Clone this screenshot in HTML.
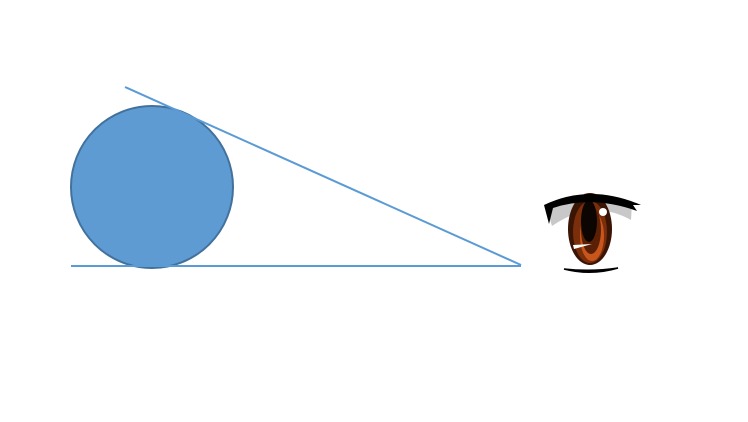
<!DOCTYPE html>
<html><head><meta charset="utf-8"><style>html,body{margin:0;padding:0;background:#fff;width:748px;height:422px;overflow:hidden}</style></head>
<body>
<svg width="748" height="422" viewBox="0 0 748 422">
  <circle cx="152" cy="187" r="81" fill="#5f9bd3" stroke="#41719c" stroke-width="2"/>
  <line x1="71" y1="266" x2="521" y2="266" stroke="#5b9bd5" stroke-width="2"/>
  <line x1="125" y1="87" x2="521" y2="265" stroke="#5b9bd5" stroke-width="2"/>
  <g>
    <path d="M552 226 L546 207 Q590 186 632 203 L631 220 Q592 198 552 226 Z" fill="#c8c8c8"/>
    <ellipse cx="590" cy="229" rx="22" ry="36" fill="#3a1506"/>
    <ellipse cx="590" cy="232" rx="17" ry="31" fill="#7a2e0a"/>
    <ellipse cx="592" cy="236" rx="12" ry="25" fill="#c8561c"/>
    <ellipse cx="591" cy="230" rx="10" ry="24" fill="#5a2006"/>
    <ellipse cx="589" cy="221" rx="8" ry="21" fill="#0d0502"/>
    <path d="M573 245 L592 244 L574 249 Z" fill="#fff"/>
    <circle cx="603" cy="212" r="4" fill="#fff"/>
    <path d="M544 205 Q590 183 641 205 L633 205 L637 211 Q592 195 553 208 L549 224 Z" fill="#000"/>
    <path d="M564 269 Q591 276 618 268 Q591 272 564 269 Z" fill="#000" stroke="#000" stroke-width="1.5"/>
  </g>
</svg>
</body></html>
